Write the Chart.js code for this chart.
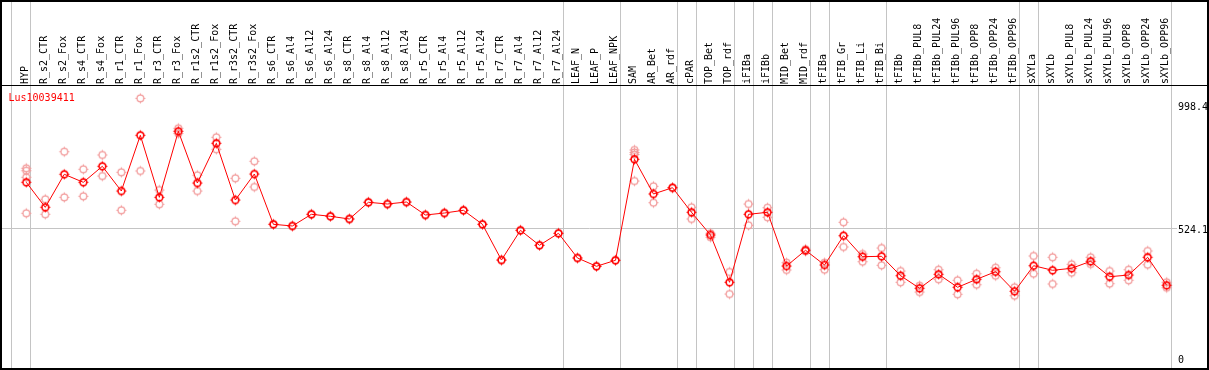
<!DOCTYPE html>
<html>
<head>
<meta charset="utf-8">
<script src="https://cdn.jsdelivr.net/npm/chart.js@4.4.1/dist/chart.umd.min.js"></script>
<style>
  html, body { margin: 0; padding: 0; background: #fff; }
  canvas { display: block; }
</style>
</head>
<body>
<canvas id="plot" width="1209" height="370"></canvas>
<script>
// === Données ===
const geneId = "Lus10039411";

const categories = [
  "HYP", "R_s2_CTR", "R_s2_Fox", "R_s4_CTR", "R_s4_Fox", "R_r1_CTR", "R_r1_Fox",
  "R_r3_CTR", "R_r3_Fox", "R_r1s2_CTR", "R_r1s2_Fox", "R_r3s2_CTR", "R_r3s2_Fox",
  "R_s6_CTR", "R_s6_Al4", "R_s6_Al12", "R_s6_Al24", "R_s8_CTR", "R_s8_Al4", "R_s8_Al12",
  "R_s8_Al24", "R_r5_CTR", "R_r5_Al4", "R_r5_Al12", "R_r5_Al24", "R_r7_CTR", "R_r7_Al4",
  "R_r7_Al12", "R_r7_Al24", "LEAF_N", "LEAF_P", "LEAF_NPK", "SAM", "AR_Bet", "AR_rdf",
  "cPAR", "TOP_Bet", "TOP_rdf", "iFIBa", "iFIBb", "MID_Bet", "MID_rdf", "tFIBa",
  "tFIB_Gr", "tFIB_Li", "tFIB_Bi", "tFIBb", "tFIBb_PUL8", "tFIBb_PUL24", "tFIBb_PUL96",
  "tFIBb_OPP8", "tFIBb_OPP24", "tFIBb_OPP96", "sXYLa", "sXYLb", "sXYLb_PUL8",
  "sXYLb_PUL24", "sXYLb_PUL96", "sXYLb_OPP8", "sXYLb_OPP24", "sXYLb_OPP96"
];

// moyennes (ligne rouge)
const means = [
  701.5, 605.1, 732.4, 701.5, 763.2, 667.9, 882.8, 643.6, 898.2, 698.8, 851.9, 633.2, 733.5,
  539.5, 533.0, 578.1, 570.4, 560.0, 624.4, 617.8, 625.5, 575.4, 583.1, 593.5, 539.5,
  401.8, 516.4, 458.5, 504.8, 409.6, 377.6, 400.7, 790.2, 656.4, 680.7, 585.8, 498.3,
  315.9, 578.1, 585.8, 378.7, 439.3, 382.6, 495.6, 414.6, 416.1, 341.3, 292.7, 346.7,
  296.6, 327.4, 356.7, 281.1, 379.9, 362.1, 369.8, 396.8, 337.4, 344.0, 412.3, 304.3
];

// réplicats (cercles roses)
const replicates = [
  [755.5, 746.2, 720.8, 582.0], [635.9, 578.1], [819.5, 643.6], [751.6, 647.5],
  [806.8, 725.8], [740.1, 593.5], [1025.4, 745.1], [671.8, 616.7], [909.8, 889.7],
  [728.5, 667.9], [875.0, 828.8], [716.9, 551.1], [782.5, 683.4],
  [539.5], [533.0], [578.1], [570.4], [560.0], [624.4], [617.8], [625.5], [575.4],
  [583.1], [593.5], [539.5], [401.8], [516.4], [458.5], [504.8], [409.6], [377.6], [400.7],
  [826.1, 816.4, 808.7, 706.5], [686.1, 622.8], [680.7], [605.1, 560.0], [504.8, 489.8],
  [355.6, 270.7], [617.8, 535.7], [603.5, 566.5], [391.4, 363.3], [443.1, 435.4],
  [391.4, 364.4], [547.2, 452.0], [425.0, 395.3], [448.1, 381.4], [359.4, 315.9],
  [302.7, 278.4], [364.4, 327.4], [323.6, 269.6], [349.0, 306.6], [372.2, 341.3],
  [296.6, 264.2], [417.3, 349.0], [412.3, 309.3], [385.3, 352.9], [412.3, 386.4],
  [359.4, 310.5], [364.4, 323.6], [436.6, 383.7], [315.9, 295.0]
];

// graduations de l'axe de droite (zéro, moyenne, max)
const yTicks = [0, 524.1, 998.4];
const meanLevel = 524.1;

// fin de chaque groupe d'échantillons (trait vertical gris)
const groupEnds = [-1, 0, 28, 31, 34, 35, 37, 38, 39, 41, 42, 45, 52, 53, 60];

// === Mise en page (pixels) ===
const FIRST_X = 26.3;    // centre du premier échantillon
const STEP_X = 19.006;   // écart entre deux échantillons
const ZERO_Y = 364.2;    // position de la valeur 0
const PX_PER_UNIT = 0.2593;

// === Marqueurs (cercle avec petits rayons) ===
function makeMarker(color, lw) {
  const c = document.createElement("canvas");
  c.width = 13;
  c.height = 13;
  const g = c.getContext("2d");
  g.strokeStyle = color;
  g.lineWidth = lw;
  g.beginPath();
  g.arc(6.5, 6.5, 3.4, 0, Math.PI * 2);
  g.stroke();
  g.lineWidth = 1;
  g.beginPath();
  g.moveTo(6.5, 1.5); g.lineTo(6.5, 3.2);
  g.moveTo(6.5, 9.8); g.lineTo(6.5, 11.5);
  g.moveTo(1.5, 6.5); g.lineTo(3.2, 6.5);
  g.moveTo(9.8, 6.5); g.lineTo(11.5, 6.5);
  g.stroke();
  return c;
}
const meanMarker = makeMarker("#ff0000", 1.6);
const repMarker = makeMarker("#f29a9a", 1.2);

const monoFont = { family: "'DejaVu Sans Mono', 'Liberation Mono', monospace", size: 10 };

// === Bornes des axes recalées sur la zone de tracé ===
const boundsPlugin = {
  id: "bounds",
  afterLayout(chart) {
    const x = chart.scales.x;
    const y = chart.scales.y;
    x.min = (x.left - FIRST_X) / STEP_X;
    x.max = (x.right - FIRST_X) / STEP_X;
    x.configure();
    y.min = (ZERO_Y - y.bottom) / PX_PER_UNIT;
    y.max = (ZERO_Y - y.top) / PX_PER_UNIT;
    y.configure();
  }
};

// === Cadre, séparations de groupes, ligne de moyenne, étiquette ===
const framePlugin = {
  id: "frame",
  beforeDatasetsDraw(chart) {
    const { ctx, chartArea } = chart;
    const x = chart.scales.x;
    const y = chart.scales.y;
    ctx.save();
    ctx.strokeStyle = "#c4c4c4";
    ctx.lineWidth = 1;
    const py = Math.round(y.getPixelForValue(meanLevel)) + 0.5;
    ctx.beginPath();
    ctx.moveTo(2, py);
    ctx.lineTo(chartArea.right, py);
    ctx.stroke();
    groupEnds.forEach((i) => {
      const px = Math.round(x.getPixelForValue(i + 0.215)) + 0.5;
      ctx.beginPath();
      ctx.moveTo(px, 0);
      ctx.lineTo(px, chart.height - 2);
      ctx.stroke();
    });
    ctx.restore();
  },
  afterDraw(chart) {
    const { ctx } = chart;
    ctx.save();
    ctx.fillStyle = "#000";
    ctx.fillRect(0, 85, chart.width, 1);
    ctx.strokeStyle = "#000";
    ctx.lineWidth = 2;
    ctx.strokeRect(1, 1, chart.width - 2, chart.height - 2);
    ctx.fillStyle = "#ff0000";
    ctx.font = "10px 'DejaVu Sans Mono', monospace";
    ctx.textBaseline = "alphabetic";
    ctx.fillText(geneId, 8.5, 100.5);
    ctx.restore();
  }
};

const ctx = document.getElementById("plot").getContext("2d");

new Chart(ctx, {
  type: "line",
  data: {
    datasets: [
      {
        label: "moyenne",
        data: means.map((v, i) => ({ x: i, y: v })),
        borderColor: "#ff0000",
        borderWidth: 1,
        tension: 0,
        pointStyle: meanMarker,
        pointRadius: 5,
        order: 1
      },
      {
        type: "scatter",
        label: "réplicats",
        data: replicates.flatMap((r, i) => r.map((v) => ({ x: i, y: v }))),
        pointStyle: repMarker,
        pointRadius: 5,
        showLine: false,
        order: 2
      }
    ]
  },
  options: {
    responsive: false,
    animation: false,
    devicePixelRatio: 1,
    layout: { padding: { left: 2, right: 0, top: 0, bottom: 2 } },
    plugins: { legend: { display: false }, tooltip: { enabled: false } },
    scales: {
      x: {
        type: "linear",
        position: "top",
        min: -1.28,
        max: 60.54,
        grid: { display: false, drawTicks: false },
        border: { display: false },
        afterBuildTicks: (s) => { s.ticks = categories.map((c, i) => ({ value: i })); },
        afterFit: (s) => {
          s.height = 86;
          s.paddingLeft = 0;
          s.paddingRight = 0;
        },
        ticks: {
          autoSkip: false,
          minRotation: 90,
          maxRotation: 90,
          padding: 2,
          labelOffset: 10.8,
          color: "#000",
          font: monoFont,
          callback: (v) => categories[v]
        }
      },
      y: {
        position: "right",
        min: -14.66,
        max: 1072.9,
        afterBuildTicks: (s) => { s.ticks = yTicks.map((v) => ({ value: v })); },
        afterFit: (s) => {
          s.width = 32;
          s.paddingTop = 0;
          s.paddingBottom = 0;
        },
        grid: { display: false, drawTicks: false },
        border: { display: false },
        ticks: {
          padding: 1,
          labelOffset: 2.5,
          color: "#000",
          font: monoFont,
          callback: (v) => (v === 0 ? ["0", ""] : String(v))
        }
      }
    }
  },
  plugins: [boundsPlugin, framePlugin]
});
</script>
</body>
</html>
